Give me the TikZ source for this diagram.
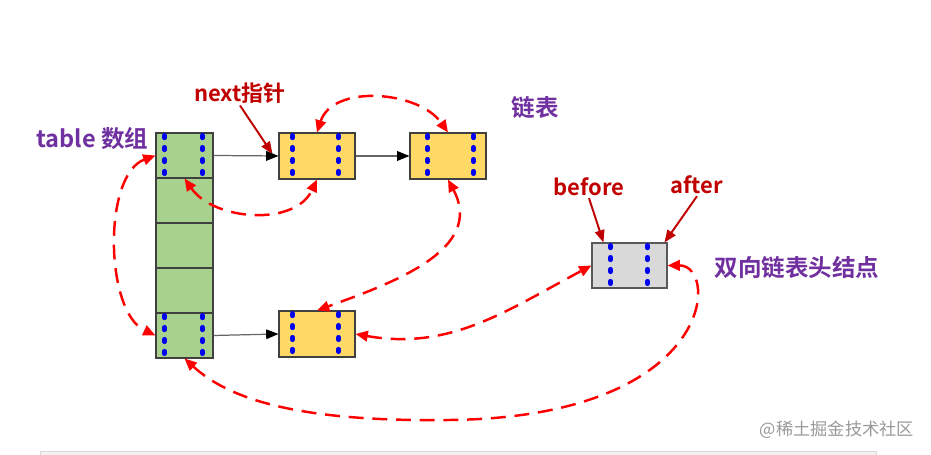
\documentclass[tikz,border=0pt]{standalone}
\usepackage{fontspec}
\setmainfont{Noto Sans CJK SC}[BoldFont={Noto Sans CJK SC Bold}]
\usepackage{xcolor}
\usetikzlibrary{arrows.meta,calc,positioning}
\definecolor{cellgreen}{HTML}{A9D18E}
\definecolor{nodeyellow}{HTML}{FFD966}
\definecolor{headgray}{HTML}{D9D9D9}
\definecolor{labelred}{HTML}{C00000}
\definecolor{labelpurple}{HTML}{7030A0}
\definecolor{ptrblue}{HTML}{0000F0}

\begin{document}
\begin{tikzpicture}[x=0.02cm,y=0.02cm,
  slot/.style={draw=black!75,fill=cellgreen,minimum width=1.14cm,minimum height=0.9cm,inner sep=0pt,line width=0.6pt},
  entry/.style={draw=black!75,fill=nodeyellow,minimum width=1.52cm,minimum height=0.92cm,inner sep=0pt,line width=0.6pt},
  head/.style={draw=black!65,fill=headgray,minimum width=1.5cm,minimum height=0.9cm,inner sep=0pt,line width=0.6pt},
  ptr/.style={draw=ptrblue,line width=2.8pt,line cap=round,dash pattern=on 1.3pt off 5.5pt},
  link/.style={draw=red,line width=1.4pt,dash pattern=on 8.5pt off 5pt,{Triangle[length=7pt,width=6pt]}-{Triangle[length=7pt,width=6pt]}},
  nextp/.style={draw=black!60,line width=0.7pt,-{Triangle[length=7pt,width=5.5pt,color=black]}},
  tag/.style={draw=labelred,line width=1.1pt,-{Triangle[length=7pt,width=5.5pt]}},
  redlbl/.style={text=labelred,font=\bfseries\fontsize{12.5}{15}\selectfont,inner sep=1pt},
  purplbl/.style={text=labelpurple,font=\bfseries\fontsize{13.4}{16}\selectfont,inner sep=1pt}]
  \useasboundingbox (0,0) rectangle (931,455);
  \draw[draw=black!15,fill=black!5] (40,0) rectangle (876,4);

  % table array and the nodes
  \foreach \i in {0,...,4} {\node[slot] (t\i) at (184.5,299.5-45*\i) {};}
  \node[entry] (n1) at (317,299) {};
  \node[entry] (n2) at (448,299) {};
  \node[entry] (n3) at (317,121) {};
  \node[head] (hd) at (629.5,189.5) {};
  \foreach \n/\a/\b in {t0/9/47,t4/9/47,n1/14/60,n2/18/64,n3/14/60,hd/19/56} {
    \draw[ptr] ($(\n.north west)+(\a,-3)$) -- ($(\n.south west)+(\a,0)$);
    \draw[ptr] ($(\n.north west)+(\b,-3)$) -- ($(\n.south west)+(\b,0)$);
  }

  % labels
  \node[purplbl] (lbltable) at (92.5,316) {table 数组};
  \node[purplbl] (lbllist) at (535,347) {链表};
  \node[purplbl] (lblhead) at (797,187) {双向链表头结点};
  \node[redlbl] (lblnext) at (240,362) {next指针};
  \node[redlbl] (lblbefore) at (589,268) {before};
  \node[redlbl] (lblafter) at (697,270) {after};
  \node[text=black!40,font=\fontsize{9.8}{12}\selectfont] (mark) at (837,25) {@稀土掘金技术社区};

  \draw[tag] (lblnext.south) -- ($(n1.west)+(-6,2)$);
  \draw[tag] (lblbefore.south) -- ($(hd.north west)+(12,0)$);
  \draw[tag] (lblafter.south) -- ($(hd.north east)+(-3,0)$);

  % next pointers
  \draw[nextp] (t0.east) -- (n1.west);
  \draw[nextp] (n1.east) -- (n2.west);
  \draw[nextp] (t4.east) -- (n3.west);

  % before / after links
  \draw[link] (t0.south) to[out=-55,in=-115] (n1.south);
  \draw[link] (n1.north) to[out=72,in=125] (n2.north);
  \draw[link] (n2.south) to[out=-62,in=20,looseness=1.1] (n3.north);
  \draw[link] (n3.east) to[out=-10,in=-152] (hd.west);
  \draw[link] (hd.east) .. controls (720,190) and (716,38) .. (450,35) .. controls (300,33) and (230,55) .. (t4.south);
  \draw[link] (t0.west) to[out=200,in=155,looseness=0.8] (t4.west);
\end{tikzpicture}
\end{document}
